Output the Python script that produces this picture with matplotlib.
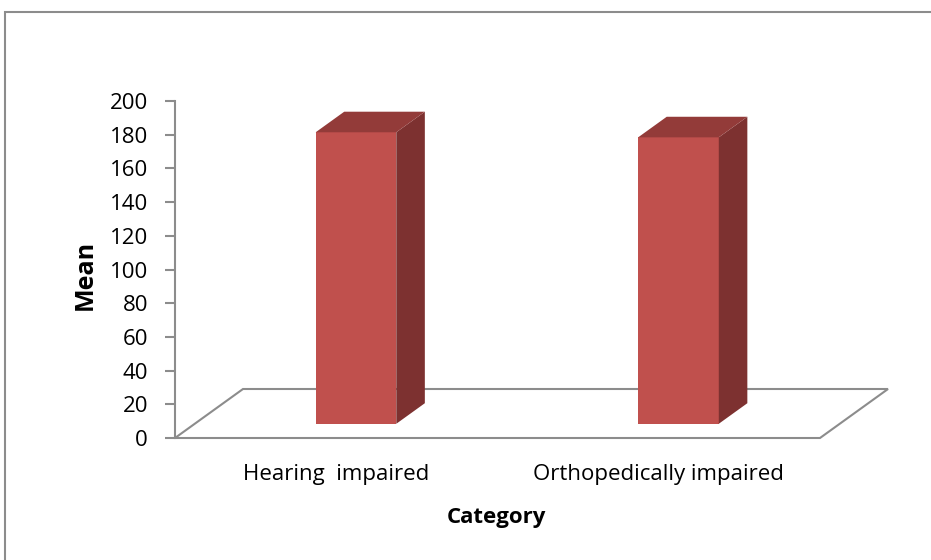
import matplotlib
matplotlib.use("Agg")
import matplotlib.pyplot as plt
from matplotlib.patches import Polygon, Rectangle
import numpy as np

categories = ["Hearing  impaired", "Orthopedically impaired"]
means = [173, 170]
y_ticks = [0, 20, 40, 60, 80, 100, 120, 140, 160, 180, 200]

W, H = 931, 560
fig = plt.figure(figsize=(W / 100, H / 100), dpi=100)
plt.rcParams['font.family'] = ['Open Sans', 'DejaVu Sans']

# axes placement in pixels
L, R, B, T = 175, 820, 438, 101
ax = fig.add_axes([L / W, (H - B) / H, (R - L) / W, (B - T) / H])
ax.set_xlim(0, len(categories))
ax.set_ylim(0, 200)

# oblique depth offsets (data units)
DX = 68 / (R - L) * len(categories)
DY = 49 / (B - T) * 200
d0, d1 = 0.29, 0.71
BW = 0.25

front = "#C0504D"
side = "#7D3130"
top = "#933B39"
gray = "#8C8C8C"

# floor
floor = Polygon([(0, 0), (len(categories), 0), (len(categories) + DX, DY), (DX, DY)],
                closed=True, facecolor="none", edgecolor=gray, lw=1.5, clip_on=False, zorder=1)
ax.add_patch(floor)

xc = np.arange(len(categories)) + 0.5
ox0, oy0 = d0 * DX, d0 * DY
ddx, ddy = (d1 - d0) * DX, (d1 - d0) * DY
ax.bar(xc + ox0, means, width=BW, bottom=oy0, color=front, zorder=3, clip_on=False)
for x, v in zip(xc, means):
    xl = x + ox0 - BW / 2
    xr = x + ox0 + BW / 2
    yb = oy0
    yt = oy0 + v
    ax.add_patch(Polygon([(xr, yb), (xr + ddx, yb + ddy), (xr + ddx, yt + ddy), (xr, yt)],
                         closed=True, facecolor=side, edgecolor="none", clip_on=False, zorder=3))
    ax.add_patch(Polygon([(xl, yt), (xr, yt), (xr + ddx, yt + ddy), (xl + ddx, yt + ddy)],
                         closed=True, facecolor=top, edgecolor="none", clip_on=False, zorder=3))

for s in ["top", "right", "bottom"]:
    ax.spines[s].set_visible(False)
ax.spines["left"].set_color(gray)
ax.spines["left"].set_linewidth(1.5)
ax.set_yticks(y_ticks)
ax.tick_params(axis="y", length=7, width=1.5, color=gray, pad=12.5, labelsize=16)
ax.set_xticks(xc)
ax.set_xticklabels(categories)
ax.tick_params(axis="x", length=0, pad=19, labelsize=16)
ax.set_ylabel("Mean", fontsize=18, fontweight="bold", va="center")
ax.yaxis.set_label_coords((85 - L) / (R - L), (B - 275) / (B - T))
ax.set_xlabel("Category", fontsize=16, fontweight="bold", va="center")
ax.xaxis.set_label_coords((496 - L) / (R - L), (B - 517) / (B - T))
ax.patch.set_visible(False)

# outer chart frame
fig.patches.append(Rectangle((5 / W, -0.05), 1.1, (H - 12) / H + 0.05, transform=fig.transFigure,
                             facecolor="none", edgecolor=gray, lw=1.5, clip_on=False))

fig.savefig("out.png", dpi=100)
